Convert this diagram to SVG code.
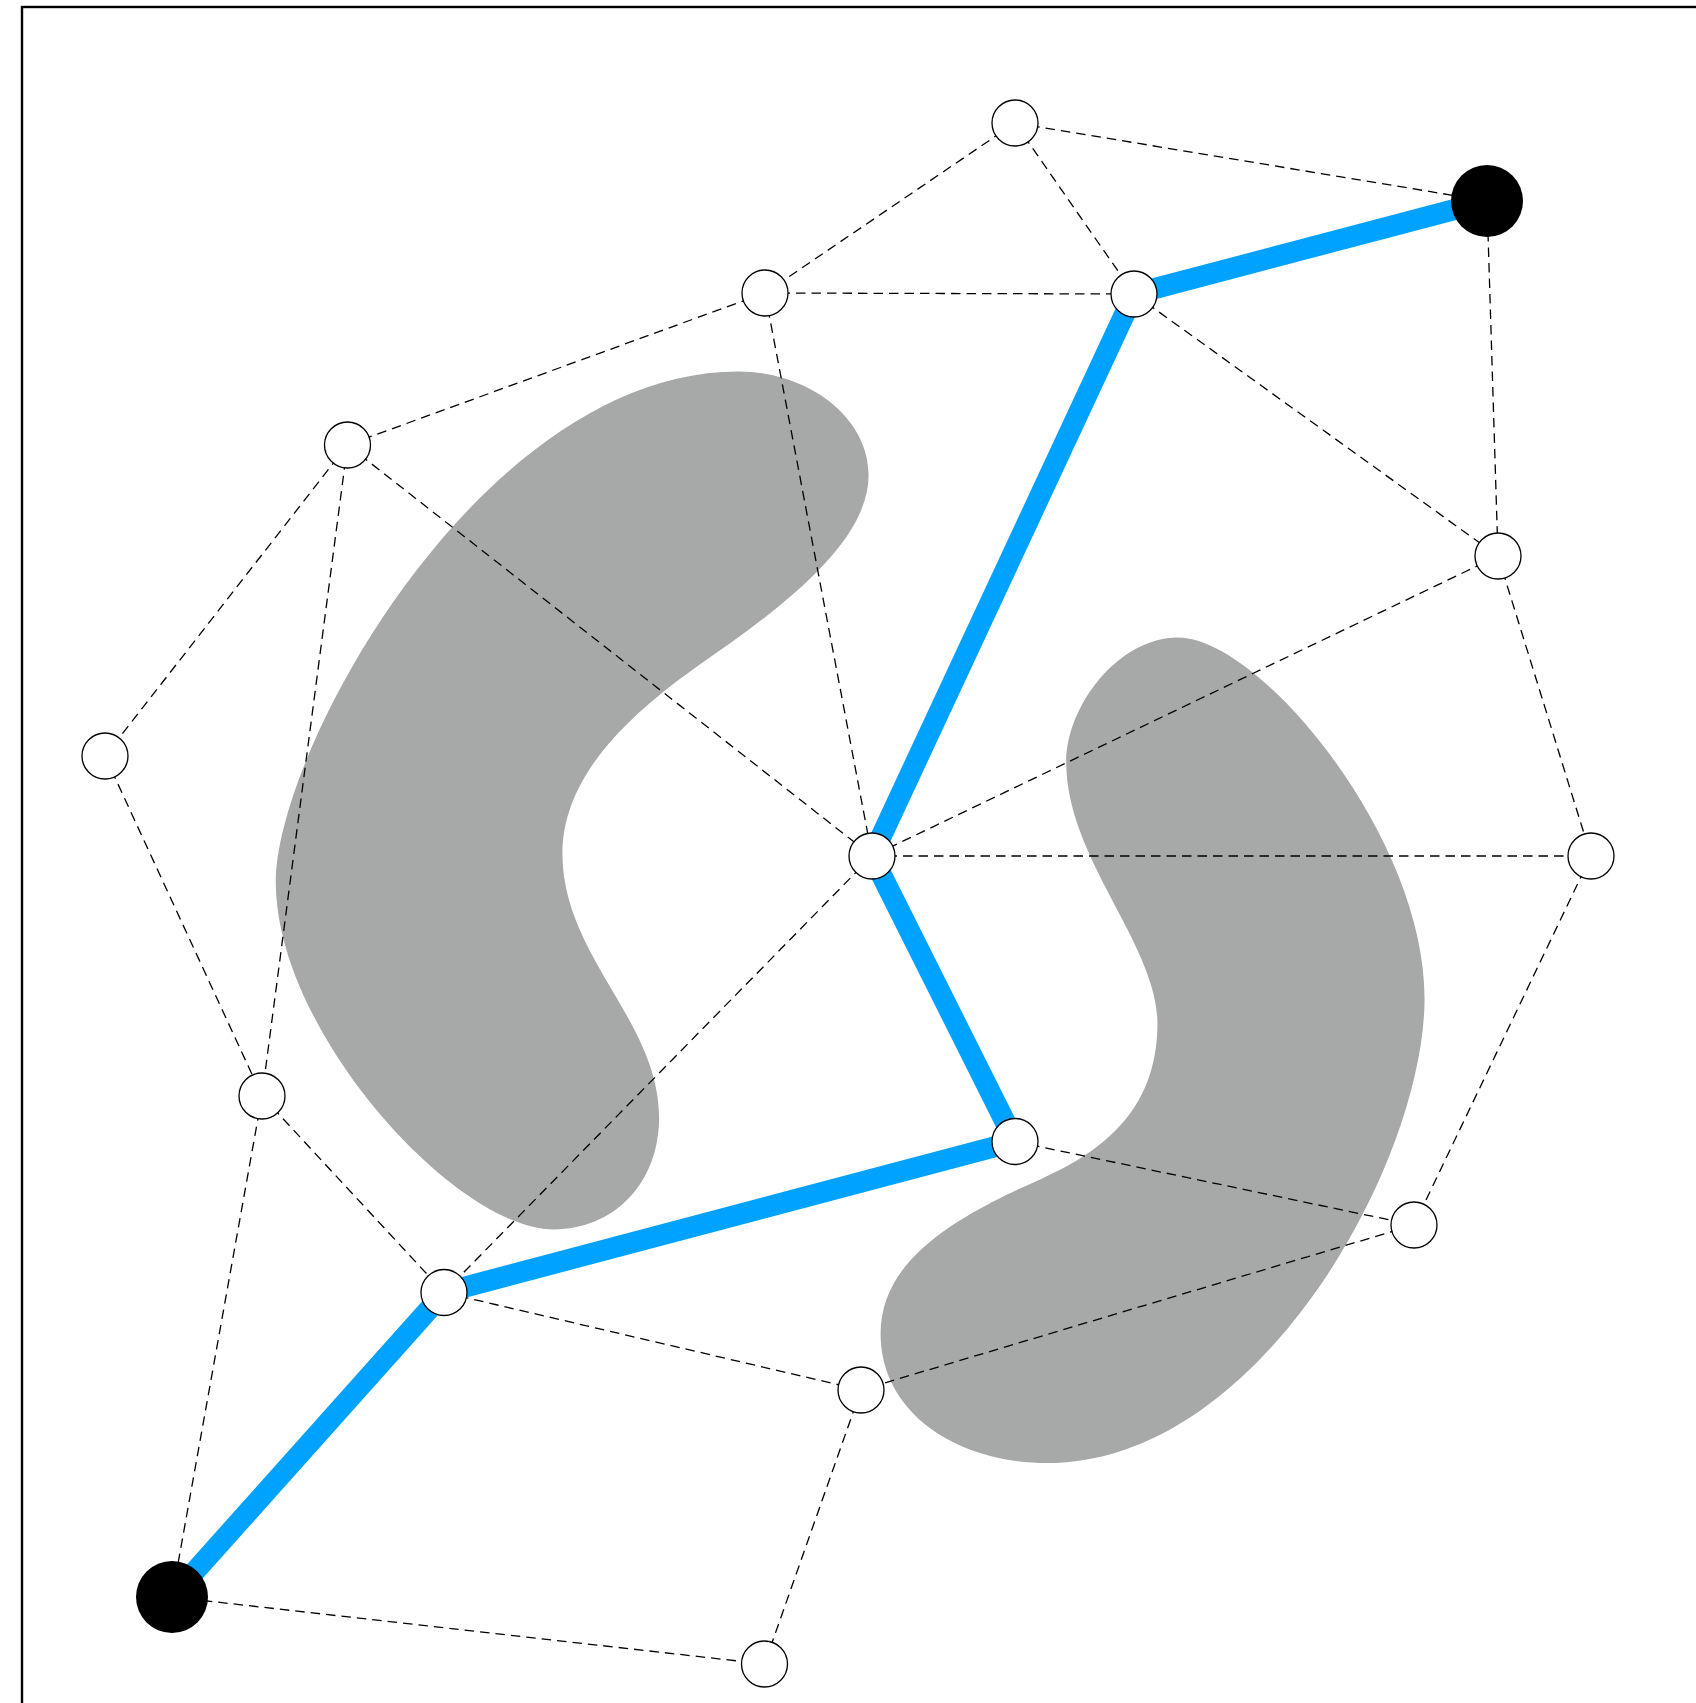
<svg xmlns="http://www.w3.org/2000/svg" width="1696" height="1703" viewBox="0 0 1696 1703">
<style>
.frame{fill:none;stroke:#000;stroke-width:2.4}
.blob{fill:#a6a9a8;stroke:none}
.dash{stroke:#000;stroke-width:1.3;stroke-dasharray:9.5 6;fill:none}
.route{stroke:#00a2ff;stroke-width:21;stroke-linecap:butt;fill:none}
.wn{fill:#fff;stroke:#000;stroke-width:1.3}
.bn{fill:#000;stroke:none}
</style>
<rect width="1696" height="1703" fill="#fff"/>
<rect class="frame" x="22" y="7" width="1700" height="1720"/>
<g id="obstacles" transform="scale(1.0858 1.0861)">
<path id="obstacle1" class="blob" d="M680,342 C745,342 800,385 800,437 C800,500 720,560 640,615 C570,665 518,720 518,786 C518,880 607,940 607,1029 C607,1090 565,1132 510,1132 C420,1132 254,950 254,812 C254,690 445,342 680,342 Z"/>
<path id="obstacle2" class="blob" d="M1085,587 C1160,587 1312,770 1312,919 C1312,1070 1160,1347 965,1347 C880,1347 811,1300 811,1228 C811,1160 880,1120 960,1085 C1030,1054 1066,1010 1066,942 C1066,870 982,790 982,702 C982,650 1030,587 1085,587 Z"/>
</g>
<g id="connectors">
<g id="dashed-edges">
<line class="dash" x1="1015" y1="123" x2="1487" y2="201"/>
<line class="dash" x1="1015" y1="123" x2="765" y2="293"/>
<line class="dash" x1="1015" y1="123" x2="1134" y2="294"/>
<line class="dash" x1="765" y1="293" x2="1134" y2="294"/>
<line class="dash" x1="765" y1="293" x2="347.5" y2="445"/>
<line class="dash" x1="765" y1="293" x2="872" y2="856"/>
<line class="dash" x1="1134" y1="294" x2="1498" y2="556"/>
<line class="dash" x1="1487" y1="201" x2="1498" y2="556"/>
<line class="dash" x1="347.5" y1="445" x2="105" y2="756"/>
<line class="dash" x1="347.5" y1="445" x2="262" y2="1096"/>
<line class="dash" x1="347.5" y1="445" x2="872" y2="856"/>
<line class="dash" x1="1498" y1="556" x2="872" y2="856"/>
<line class="dash" x1="1498" y1="556" x2="1591" y2="856"/>
<line class="dash" x1="105" y1="756" x2="262" y2="1096"/>
<line class="dash" x1="872" y1="856" x2="1591" y2="856"/>
<line class="dash" x1="872" y1="856" x2="444" y2="1292.5"/>
<line class="dash" x1="1591" y1="856" x2="1414" y2="1225"/>
<line class="dash" x1="262" y1="1096" x2="444" y2="1292.5"/>
<line class="dash" x1="262" y1="1096" x2="172" y2="1597"/>
<line class="dash" x1="1015" y1="1141.5" x2="1414" y2="1225"/>
<line class="dash" x1="1414" y1="1225" x2="861" y2="1390"/>
<line class="dash" x1="444" y1="1292.5" x2="861" y2="1390"/>
<line class="dash" x1="861" y1="1390" x2="764.5" y2="1664"/>
<line class="dash" x1="172" y1="1597" x2="764.5" y2="1664"/>
</g>
<g id="route">
<polyline class="route" points="1487,201 1134,294 872,856 1015,1141.5 444,1292.5 172,1597"/>
</g>
</g>
<g id="nodes">
<g id="n-A"><circle class="wn" cx="1015" cy="123" r="23"/></g>
<g id="n-B"><circle class="bn" cx="1487" cy="201" r="36"/></g>
<g id="n-C"><circle class="wn" cx="765" cy="293" r="23"/></g>
<g id="n-D"><circle class="wn" cx="1134" cy="294" r="23"/></g>
<g id="n-E"><circle class="wn" cx="347.5" cy="445" r="23"/></g>
<g id="n-F"><circle class="wn" cx="1498" cy="556" r="23"/></g>
<g id="n-G"><circle class="wn" cx="105" cy="756" r="23"/></g>
<g id="n-H"><circle class="wn" cx="872" cy="856" r="23"/></g>
<g id="n-I"><circle class="wn" cx="1591" cy="856" r="23"/></g>
<g id="n-J"><circle class="wn" cx="262" cy="1096" r="23"/></g>
<g id="n-K"><circle class="wn" cx="1015" cy="1141.5" r="23"/></g>
<g id="n-L"><circle class="wn" cx="1414" cy="1225" r="23"/></g>
<g id="n-M"><circle class="wn" cx="444" cy="1292.5" r="23"/></g>
<g id="n-N"><circle class="wn" cx="861" cy="1390" r="23"/></g>
<g id="n-O"><circle class="bn" cx="172" cy="1597" r="36"/></g>
<g id="n-P"><circle class="wn" cx="764.5" cy="1664" r="23"/></g>
</g>
</svg>
